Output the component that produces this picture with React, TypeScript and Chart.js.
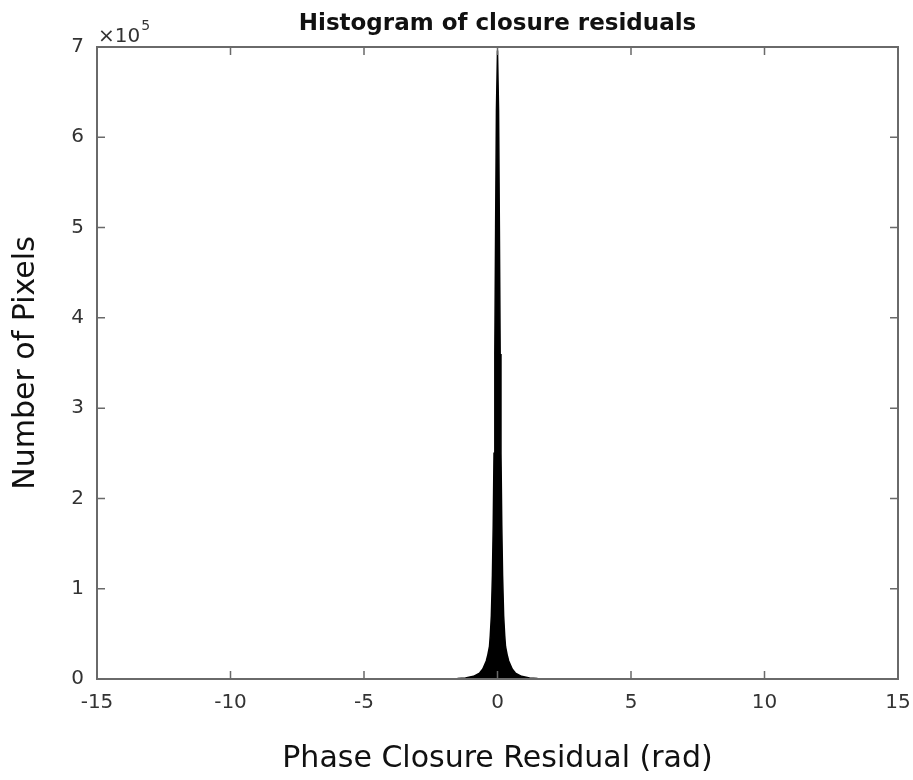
import React, { useEffect, useRef } from "react";
import { Chart, registerables } from "chart.js";

Chart.register(...registerables);

// Histogram bin centres (rad) and pixel counts
const residualBins = [
  -15, -12, -8, -5, -3, -2, -1.5, -1.2, -0.9, -0.67, -0.55, -0.42, -0.36, -0.3, -0.27, -0.23,
  -0.19, -0.16, -0.13, -0.1, -0.07, -0.04, 0, 0.04, 0.07, 0.1, 0.13, 0.16, 0.19, 0.23, 0.27,
  0.3, 0.36, 0.42, 0.55, 0.67, 0.9, 1.2, 1.5, 2, 3, 5, 8, 12, 15,
];
const pixelCounts = [
  0, 10, 20, 50, 150, 300, 600, 1000, 3000, 6600, 11000, 20000, 27000, 36000, 48000, 70000,
  115000, 170000, 250000, 360000, 500000, 630000, 696000, 630000, 500000, 360000, 250000, 170000,
  115000, 70000, 48000, 36000, 27000, 20000, 11000, 6600, 3000, 1000, 600, 300, 150, 50, 20, 10, 0,
];
const xTicks = [-15, -10, -5, 0, 5, 10, 15];
const yTicks = [0, 100000, 200000, 300000, 400000, 500000, 600000, 700000];

const FONT = "'DejaVu Sans', 'Liberation Sans', Arial, sans-serif";
const AXIS_COLOR = "#6a6a6a";
const TEXT_COLOR = "#333333";

const framePlugin = {
  id: "matlabFrame",
  afterDraw(chart: any) {
    const { ctx, chartArea } = chart;
    const { left, right, top, bottom } = chartArea;
    const xs = chart.scales.x;
    const ys = chart.scales.y;
    ctx.save();
    ctx.strokeStyle = AXIS_COLOR;
    ctx.lineWidth = 2;
    ctx.strokeRect(left, top, right - left, bottom - top);
    const tl = 8;
    ctx.lineWidth = 1.5;
    ctx.beginPath();
    xTicks.forEach((v) => {
      const px = xs.getPixelForValue(v);
      ctx.moveTo(px, bottom);
      ctx.lineTo(px, bottom - tl);
      ctx.moveTo(px, top);
      ctx.lineTo(px, top + tl);
    });
    yTicks.forEach((v) => {
      const py = ys.getPixelForValue(v);
      ctx.moveTo(left, py);
      ctx.lineTo(left + tl, py);
      ctx.moveTo(right, py);
      ctx.lineTo(right - tl, py);
    });
    ctx.stroke();

    // exponent label
    ctx.fillStyle = TEXT_COLOR;
    ctx.textBaseline = "alphabetic";
    ctx.textAlign = "left";
    ctx.font = `20px ${FONT}`;
    ctx.fillText("\u00d710", left + 1, top - 5);
    const w = ctx.measureText("\u00d710").width;
    ctx.font = `14px ${FONT}`;
    ctx.fillText("5", left + 2 + w, top - 17);

    // title
    ctx.fillStyle = "#111";
    ctx.textAlign = "center";
    ctx.font = `bold 23px ${FONT}`;
    ctx.fillText("Histogram of closure residuals", (left + right) / 2, top - 17);
    ctx.restore();
  },
};

export default function App() {
  const ref = useRef<HTMLCanvasElement | null>(null);
  useEffect(() => {
    if (!ref.current) return;
    const chart = new Chart(ref.current, {
      type: "line",
      data: {
        datasets: [
          {
            data: residualBins.map((x, i) => ({ x, y: pixelCounts[i] })),
            borderColor: "#000",
            backgroundColor: "#000",
            borderWidth: 1.5,
            pointRadius: 0,
            fill: "origin",
            tension: 0,
          },
        ],
      },
      options: {
        animation: false,
        responsive: true,
        maintainAspectRatio: false,
        layout: { padding: { top: 47, right: 15, left: 0, bottom: 0 } },
        plugins: { legend: { display: false }, tooltip: { enabled: false }, title: { display: false } },
        scales: {
          x: {
            type: "linear",
            min: -15,
            max: 15,
            afterFit: (s: any) => {
              s.height = 101;
              s.paddingLeft = 0;
              s.paddingRight = 0;
            },
            afterBuildTicks: (s: any) => {
              s.ticks = xTicks.map((v) => ({ value: v }));
            },
            grid: { display: false, drawTicks: false },
            border: { display: false },
            ticks: {
              padding: 12,
              color: TEXT_COLOR,
              font: { family: FONT, size: 20 },
              maxRotation: 0,
              callback: (v: any) => String(v),
            },
            title: {
              display: true,
              text: "Phase Closure Residual (rad)",
              color: "#111",
              font: { family: FONT, size: 30 },
              padding: { top: 0, bottom: 3 },
            },
          },
          y: {
            type: "linear",
            min: 0,
            max: 700000,
            afterFit: (s: any) => {
              s.width = 97;
              s.paddingTop = 0;
              s.paddingBottom = 0;
            },
            afterBuildTicks: (s: any) => {
              s.ticks = yTicks.map((v) => ({ value: v }));
            },
            grid: { display: false, drawTicks: false },
            border: { display: false },
            ticks: {
              padding: 13,
              color: TEXT_COLOR,
              font: { family: FONT, size: 20 },
              callback: (v: any) => String(Number(v) / 100000),
            },
            title: {
              display: true,
              text: "Number of Pixels",
              color: "#111",
              font: { family: FONT, size: 30 },
              padding: { top: 8, bottom: 0 },
            },
          },
        },
      },
      plugins: [framePlugin],
    });
    return () => chart.destroy();
  }, []);
  return (
    <div style={{ position: "absolute", left: 0, top: 0, width: 913, height: 780, background: "#fff" }}>
      <canvas ref={ref} />
    </div>
  );
}
